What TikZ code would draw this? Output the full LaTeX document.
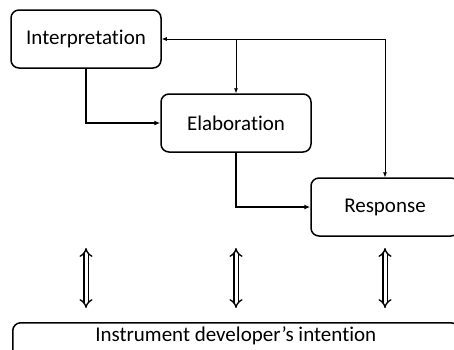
\documentclass[tikz,border=0pt]{standalone}
\usepackage{fontspec}
\setmainfont[Ligatures={NoCommon}]{Carlito}
\usetikzlibrary{arrows.meta, positioning}

\tikzset{
  stagebox/.style={draw=black, line width=1.5pt, rounded corners=8pt,
    minimum width=150pt, minimum height=58pt, inner sep=0pt,
    font=\fontsize{21}{25}\selectfont},
  flow/.style={draw=black, line width=1.5pt, -{Latex[length=6pt,width=5pt]}},
  feedback/.style={draw=black, line width=0.7pt, -{Latex[length=5pt,width=4pt]}},
  linkarrow/.style={double=white, double distance=3pt, line width=1.4pt, {Implies}-{Implies}}
}

\begin{document}
\begin{tikzpicture}[x=1pt, y=-1pt]
        \clip (0,0) rectangle (454,349);
        \fill[white] (0,0) rectangle (454,349);
        \begin{scope}[every node/.style={stagebox}]
          \node (interp) at (86,39) {Interpretation};
          \node (elab) at (236,123) {Elaboration};
          \node[minimum width=148pt] (resp) at (385,207) {Response};
          \node[anchor=north west, minimum width=446pt] (intent) at (12,322) {};
        \end{scope}
        \node[font=\fontsize{21}{25}\selectfont, below=1pt of intent.north] (intenttext) {Instrument developer’s intention};
        % main path
        \path[flow] (interp.south) |- (elab.west);
        \path[flow] (elab.south) |- (resp.west);
        % feedback from the response
        \coordinate (top) at (resp.north |- interp.east);
        \coordinate (split) at (elab.north |- interp.east);
        \path[feedback] (top) -- (interp.east);
        \path[feedback] (top) -- (resp.north);
        \path[feedback] (split) -- (elab.north);
        % links to the intention
        \foreach \n in {interp, elab, resp} {
          \coordinate (\n-up) at (\n.south |- 0,248);
          \coordinate (\n-down) at (\n.south |- 0,308);
          \draw[linkarrow] (\n-up) -- (\n-down);
        }
      \end{tikzpicture}
\end{document}
